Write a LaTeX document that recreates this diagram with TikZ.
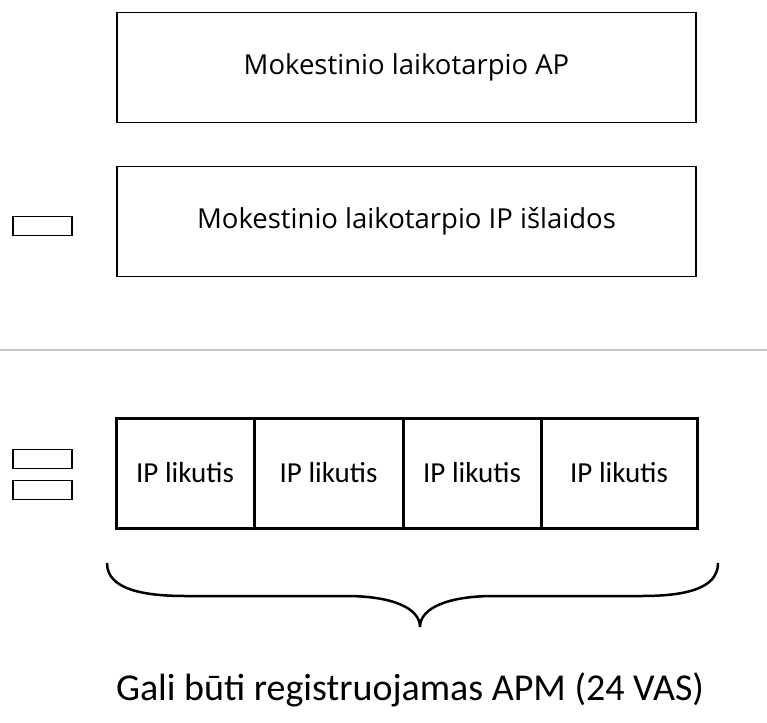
\documentclass[tikz,border=0pt]{standalone}
\usepackage{fontspec}
\setmainfont{Carlito}
\newfontfamily\boxfont{Open Sans}
\usetikzlibrary{positioning}
\definecolor{rulegray}{RGB}{200,200,200}
\tikzset{
    block/.style={
        rectangle,
        draw,
        line width=1.2pt,
        outer sep=0pt,
        minimum width=579pt,
        minimum height=110pt,
        font=\boxfont\fontsize{27.5}{32}\selectfont
    },
    cell/.style={
        rectangle,
        draw,
        line width=3pt,
        outer sep=0pt,
        inner sep=0pt,
        minimum height=110pt,
        font=\fontsize{29}{34}\selectfont
    },
    tag/.style={
        rectangle,
        draw,
        line width=1.2pt,
        inner sep=0pt,
        minimum width=59pt,
        minimum height=19pt
    }
}

\begin{document}
\begin{tikzpicture}[x=1pt, y=-1pt]
    \useasboundingbox (0,0) rectangle (767,722);

    \node (ap) [block] at (406.5,67.5) {Mokestinio laikotarpio AP};
    \node (ip) [block, below=44pt of ap] {Mokestinio laikotarpio IP išlaidos};
    \node (tagip) [tag] at (42.5,226) {};

    \draw [rulegray, line width=2pt] (0,350) -- (767,350);

    \node (c1) [cell, minimum width=138pt, anchor=north west] at (116,418) {IP likutis};
    \node (c2) [cell, minimum width=149pt, right=0pt of c1] {IP likutis};
    \node (c3) [cell, minimum width=138pt, right=0pt of c2] {IP likutis};
    \node (c4) [cell, minimum width=156pt, right=0pt of c3] {IP likutis};
    \node (tagA) [tag] at (42.5,459) {};
    \node (tagB) [tag, below=11pt of tagA] {};

    % brace under the cells
    \draw [line width=2.5pt]
        (107,563) .. controls (107,590) and (145,596) .. (186,596) -- (346,596)
        .. controls (392,596) and (420,608) .. (420,627)
        .. controls (420,608) and (448,596) .. (494,596) -- (641,596)
        .. controls (682,596) and (718,590) .. (718,563);

    \node (apm) at (410,690) {\fontsize{38}{44}\selectfont Gali būti registruojamas APM (24 VAS)};
\end{tikzpicture}
\end{document}
